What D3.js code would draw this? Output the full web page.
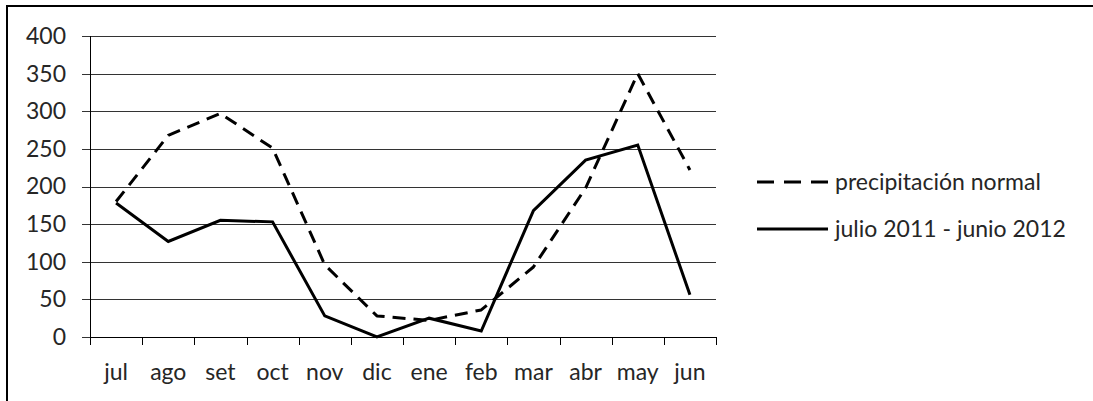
<!DOCTYPE html>
<html><head><meta charset="utf-8">
<script src="https://cdn.jsdelivr.net/npm/d3@7"></script>
<style>body{margin:0;background:#fff}svg{display:block}text{font-family:Lato,"Open Sans",sans-serif;fill:#262626}</style>
</head><body>
<svg id="c" width="1093" height="401"></svg>
<script>
const months = ["jul","ago","set","oct","nov","dic","ene","feb","mar","abr","may","jun"];
const normal = [180,268,297,251,96,28,22,36,93,198,350,222];
const actual = [178,127,155,153,28,0,25,8,168,235,255,56];
const yTicks = [0,50,100,150,200,250,300,350,400];
const seriesNames = ["precipitación normal","julio 2011 - junio 2012"];

const svg = d3.select("#c");
const W=1093,H=401;
svg.append("rect").attr("x",7).attr("y",6).attr("width",W+20).attr("height",H+20)
  .attr("fill","#fff").attr("stroke","#000").attr("stroke-width",2);

const x0=90,x1=716,yTop=36,yBot=337;
const x = d3.scaleBand().domain(months).range([x0,x1]);
const y = d3.scaleLinear().domain([0,400]).range([yBot,yTop]);
const FS = "23px";

const yAxis = d3.axisLeft(y).tickValues(yTicks).tickSize(-(x1-x0)).tickSizeOuter(0).tickPadding(24);
const ga = svg.append("g").attr("transform",`translate(${x0},0)`).call(yAxis);
ga.select(".domain").remove();
ga.selectAll(".tick line").attr("stroke","#333").attr("stroke-width",1).attr("x1",-8).attr("shape-rendering","crispEdges");
ga.selectAll(".tick text").style("font-size",FS).attr("fill","#262626");
svg.append("line").attr("x1",x0).attr("x2",x0).attr("y1",yTop).attr("y2",yBot)
  .attr("stroke","#000").attr("shape-rendering","crispEdges");

const xAxis = d3.axisBottom(x).tickSize(0).tickPadding(0);
const gx = svg.append("g").attr("transform",`translate(0,${yBot})`).call(xAxis);
gx.select(".domain").attr("stroke","#000").attr("shape-rendering","crispEdges").attr("d",`M${x0},0H${x1}`);
gx.selectAll(".tick text").style("font-size",FS).attr("y",43).attr("dy",0).attr("fill","#262626");
const bounds = months.map(m=>x(m)).concat([x1]);
svg.append("g").selectAll("line").data(bounds).join("line")
  .attr("x1",d=>Math.round(d)+0.5).attr("x2",d=>Math.round(d)+0.5).attr("y1",yBot).attr("y2",yBot+8)
  .attr("stroke","#000");

const line = d3.line().x((d,i)=>x(months[i])+x.bandwidth()/2).y(d=>y(d));
svg.append("path").datum(normal).attr("d",line).attr("fill","none").attr("stroke","#000")
  .attr("stroke-width",3).attr("stroke-dasharray","13,8").attr("stroke-linejoin","round");
svg.append("path").datum(actual).attr("d",line).attr("fill","none").attr("stroke","#000")
  .attr("stroke-width",3).attr("stroke-linejoin","miter");

const lg = svg.append("g");
const ly = [182,229];
seriesNames.forEach((n,i)=>{
  lg.append("line").attr("x1",757).attr("x2",828).attr("y1",ly[i]).attr("y2",ly[i])
    .attr("stroke","#000").attr("stroke-width",3).attr("stroke-dasharray",i===0?"17,10":null);
  lg.append("text").attr("x",835).attr("y",ly[i]).attr("dy","0.35em").style("font-size",FS).text(n);
});
</script>
</body></html>
